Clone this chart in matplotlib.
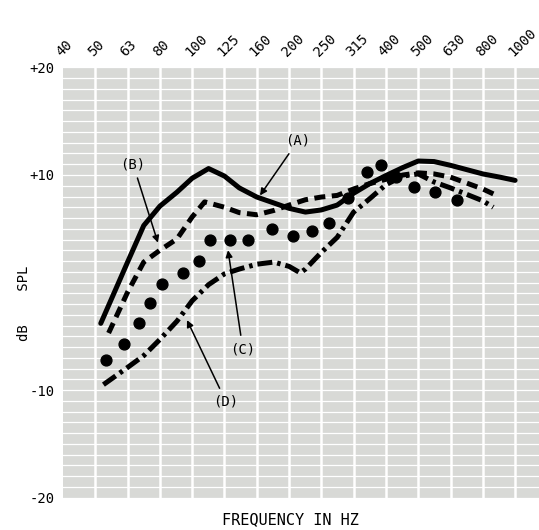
import numpy as np
import matplotlib
matplotlib.use("Agg")
import matplotlib.pyplot as plt

# third-octave bands along the top
bands = ["40", "50", "63", "80", "100", "125", "160", "200", "250",
         "315", "400", "500", "630", "800", "1000"]
band_hz = [40, 50, 63, 80, 100, 125, 160, 200, 250, 315, 400, 500, 630, 800, 1000]

# curve A (solid)
a_hz = [52, 63, 71, 80, 90, 100, 112, 125, 140, 160, 180, 200, 224, 250, 280,
        315, 355, 400, 450, 500, 560, 630, 710, 800, 900, 1000]
a_db = [-3.8, 1.9, 5.3, 7.1, 8.4, 9.7, 10.6, 9.9, 8.8, 7.95, 7.4, 6.9, 6.55,
        6.75, 7.2, 8.3, 9.2, 9.95, 10.7, 11.3, 11.25, 10.9, 10.5, 10.1, 9.8, 9.5]

# curve B (dashed)
b_hz = [55, 63, 71, 80, 90, 100, 109, 125, 140, 160, 180, 200, 224, 250, 280,
        315, 355, 400, 450, 500, 560, 630, 710, 800, 880]
b_db = [-4.7, -0.9, 1.9, 3.0, 4.05, 6.1, 7.5, 7.0, 6.5, 6.3, 6.7, 7.2, 7.7,
        7.95, 8.1, 8.7, 9.2, 9.6, 10.0, 10.2, 10.1, 9.8, 9.25, 8.7, 8.1]

# curve C (big dots)
c_hz = [54, 61.4, 68.4, 74.5, 81.3, 93.7, 105, 112.8, 130, 150, 178, 206, 234,
        264, 303, 347, 386, 430, 485, 565, 661]
c_db = [-7.2, -5.7, -3.8, -1.9, -0.1, 0.9, 2.0, 3.95, 3.95, 3.95, 4.95, 4.3,
        4.8, 5.5, 7.9, 10.3, 10.9, 9.8, 8.9, 8.4, 7.7]

# curve D (dash-dot)
d_hz = [53, 63, 71, 80, 90, 100, 112, 125, 140, 160, 180, 200, 216, 224, 250,
        280, 315, 355, 400, 450, 500, 560, 630, 710, 800, 860]
d_db = [-9.5, -7.9, -6.8, -5.3, -3.6, -1.7, -0.2, 0.8, 1.25, 1.7, 1.9, 1.5, 0.9,
        1.25, 2.8, 4.2, 6.55, 7.8, 9.1, 9.9, 10.1, 9.35, 8.8, 8.2, 7.6, 7.0]

y_ticks = [-20, -10, 10, 20]
y_labels = ["-20", "-10", "+10", "+20"]


def band_pos(hz):
    """Map a frequency onto the evenly spaced band positions."""
    return np.interp(np.log(hz), np.log(band_hz), np.arange(len(band_hz)))


mono = "DejaVu Sans Mono"
fig = plt.figure(figsize=(5.39, 5.30), dpi=100)
ax = fig.add_axes([63 / 539, 32.5 / 530, 476 / 539, 430 / 530])
ax.set_facecolor("#d8d9d6")
ax.set_xlim(0, 14.74)
ax.set_ylim(-20, 20)

# chart paper grid
for yv in range(-20, 21):
    ax.axhline(yv, color="white", lw=0.9, zorder=1)
for xv in range(1, 15):
    ax.axvline(xv, color="white", lw=1.8, zorder=1)

ax.plot(band_pos(a_hz), a_db, color="black", lw=3.6, solid_capstyle="round", zorder=3)
ax.plot(band_pos(b_hz), b_db, color="black", lw=3.6, dashes=(2.2, 1.3),
        dash_capstyle="butt", zorder=3)
ax.plot(band_pos(d_hz), d_db, color="black", lw=3.6, dashes=(3.0, 1.0, 0.7, 1.0),
        dash_capstyle="butt", zorder=3)
ax.plot(band_pos(c_hz), c_db, "o", color="black", ms=7.8, zorder=4)

arrow = dict(arrowstyle="-|>", color="black", lw=1.1, mutation_scale=10,
             shrinkA=3, shrinkB=0)
ax.annotate("(A)", xy=(6.1, 8.1), xytext=(7.28, 13.2), fontsize=10, family=mono,
            ha="center", va="center", arrowprops=arrow, zorder=5)
ax.annotate("(B)", xy=(2.94, 3.7), xytext=(2.17, 11.0), fontsize=10, family=mono,
            ha="center", va="center", arrowprops=arrow, zorder=5)
ax.annotate("(C)", xy=(5.11, 3.0), xytext=(5.57, -6.2), fontsize=10, family=mono,
            ha="center", va="center", arrowprops=arrow, zorder=5)
ax.annotate("(D)", xy=(3.84, -3.5), xytext=(5.05, -11.1), fontsize=10, family=mono,
            ha="center", va="center", arrowprops=arrow, zorder=5)

for s in ax.spines.values():
    s.set_visible(False)

ax.xaxis.tick_top()
ax.set_xticks(range(len(bands)))
ax.set_xticklabels(bands, rotation=45, ha="left", va="bottom",
                   rotation_mode="anchor", family=mono, fontsize=10)
ax.set_yticks(y_ticks)
ax.set_yticklabels(y_labels, family=mono, fontsize=10)
ax.tick_params(length=0, pad=6)

fig.text(24 / 539, 1 - 303 / 530, "dB    SPL", rotation=90, ha="center", va="center",
         family=mono, fontsize=10)
fig.text(290 / 539, 1 - 520 / 530, "FREQUENCY IN HZ", ha="center", va="center",
         family=mono, fontsize=11)

fig.savefig("out.png", dpi=100)
